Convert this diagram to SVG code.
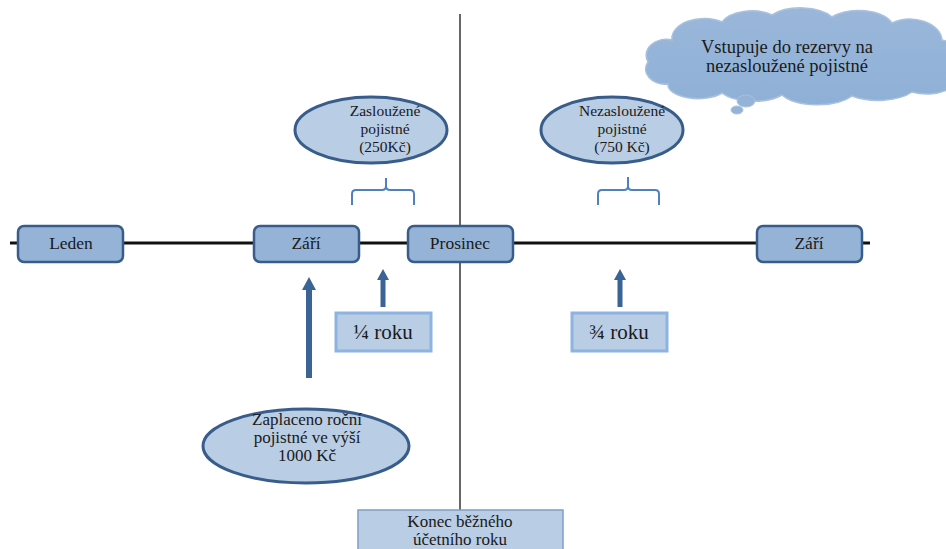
<svg xmlns="http://www.w3.org/2000/svg" width="946" height="549" viewBox="0 0 946 549" font-family="'Liberation Serif', 'DejaVu Serif', serif">
<defs>
<style>
text{font-family:'Liberation Serif','DejaVu Serif',serif;fill:#1a1a1a;text-anchor:middle}
.box{fill:#95b3d7;stroke:#385d8a;stroke-width:2.5}
.ell{fill:#b9cde5;stroke:#385d8a;stroke-width:3}
.sbox{fill:#b9cde5;stroke:#8db3e2;stroke-width:3}
.arr{fill:#3a6496}
.brace{fill:none;stroke:#4f81bd;stroke-width:2}
.tb{font-size:17.5px}
.te{font-size:15.5px}
.tz{font-size:17px}
.tk{font-size:17px}
.tc{font-size:18.5px}
.t18{font-size:21px}
</style>
<linearGradient id="cg" x1="0" y1="0" x2="0" y2="1">
<stop offset="0" stop-color="#9ab7da"/>
<stop offset="1" stop-color="#8fb0d6"/>
</linearGradient>
</defs>
<rect width="946" height="549" fill="#ffffff"/>
<g id="connectors">
<line x1="10" y1="243" x2="870" y2="243" stroke="#111" stroke-width="3"/>
<line x1="460" y1="14" x2="460" y2="510" stroke="#333" stroke-width="1.5"/>
<path class="arr" d="M306,378 V290 H302 L309,277 L316,290 H312 V378 Z"/>
<path class="arr" d="M380.5,307 V280 H377 L383,269 L389,280 H385.5 V307 Z"/>
<path class="arr" d="M617.5,307 V280 H614 L620,269 L626,280 H622.5 V307 Z"/>
<path class="brace" d="M352,205 V194 Q352,190 356,190 H382 Q386,190 386,186 V178 V186 Q386,190 390,190 H410 Q414,190 414,194 V205"/>
<path class="brace" d="M598,205 V194 Q598,190 602,190 H624 Q628,190 628,186 V177 V186 Q628,190 632,190 H655 Q659,190 659,194 V205"/>
</g>
<g id="leden"><rect class="box" x="18" y="226" width="105" height="36" rx="6"/><text class="tb" x="71" y="249">Leden</text></g>
<g id="zari1"><rect class="box" x="254" y="226" width="105" height="36" rx="6"/><text class="tb" x="306" y="249">Září</text></g>
<g id="prosinec"><rect class="box" x="408" y="226" width="105" height="36" rx="6"/><text class="tb" x="460" y="249">Prosinec</text></g>
<g id="zari2"><rect class="box" x="757" y="226" width="105" height="36" rx="6"/><text class="tb" x="809" y="249">Září</text></g>
<g id="ctvrt"><rect class="sbox" x="336" y="313" width="95" height="38"/><text class="t18" x="383" y="339">¼ roku</text></g>
<g id="trictvrt"><rect class="sbox" x="572" y="313" width="95" height="38"/><text class="t18" x="619" y="339">¾ roku</text></g>
<g id="zaslouzene"><ellipse class="ell" cx="371" cy="130" rx="76" ry="33"/><text class="te"><tspan x="385" y="116">Zasloužené</tspan><tspan x="385" y="134">pojistné</tspan><tspan x="385" y="152">(250Kč)</tspan></text></g>
<g id="nezaslouzene"><ellipse class="ell" cx="612" cy="130" rx="71" ry="33"/><text class="te"><tspan x="622" y="116">Nezasloužené</tspan><tspan x="622" y="134">pojistné</tspan><tspan x="622" y="152">(750 Kč)</tspan></text></g>
<g id="zaplaceno"><ellipse class="ell" cx="306" cy="446" rx="103" ry="37"/><text class="tz"><tspan x="307" y="425">Zaplaceno roční</tspan><tspan x="307" y="443">pojistné ve výší</tspan><tspan x="307" y="461">1000 Kč</tspan></text></g>
<g id="konec"><rect x="358" y="510" width="205" height="45" fill="#b9cde5" stroke="#7f9fc8" stroke-width="1.5"/><text class="tk"><tspan x="460" y="527">Konec běžného</tspan><tspan x="460" y="545">účetního roku</tspan></text></g>
<g id="cloud">
<path fill="url(#cg)" stroke="#a9c1df" stroke-width="1.5" d="M668,84 A20,15 0 0 1 648,62 A20,16 0 0 1 672,40 A32,20 0 0 1 722,22 A32,18 0 0 1 772,15 A36,18 0 0 1 832,17 A36,20 0 0 1 892,23 A32,22 0 0 1 942,40 A22,22 0 0 1 958,72 A32,18 0 0 1 912,92 A40,18 0 0 1 852,96 A40,18 0 0 1 782,95 A36,16 0 0 1 722,93 A30,14 0 0 1 668,84 Z"/>
<ellipse cx="746" cy="101" rx="9" ry="6" fill="#95b3d7" stroke="#a9c1df"/>
<ellipse cx="737" cy="110" rx="6" ry="4" fill="#95b3d7" stroke="#a9c1df"/>
<text class="tc"><tspan x="787" y="53">Vstupuje do rezervy na</tspan><tspan x="787" y="72">nezasloužené pojistné</tspan></text>
</g>
</svg>
